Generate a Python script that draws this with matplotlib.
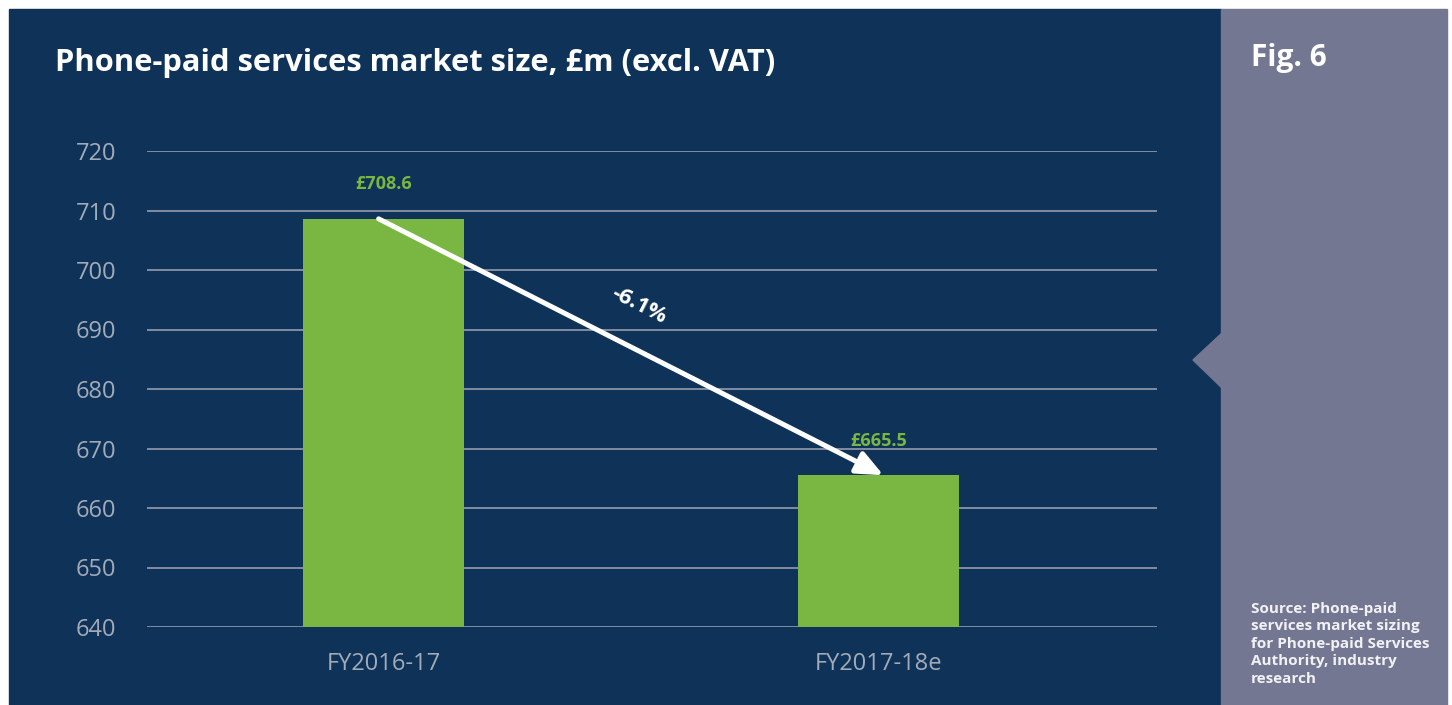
import matplotlib.pyplot as plt
from matplotlib.patches import Rectangle, Polygon

plt.rcParams['font.family'] = ['Open Sans', 'DejaVu Sans']

categories = ['FY2016-17', 'FY2017-18e']
values = [708.6, 665.5]
value_labels = ['£708.6', '£665.5']
change_label = '-6.1%'
y_ticks = [640, 650, 660, 670, 680, 690, 700, 710, 720]

W, H = 1452, 705
navy = '#0f3358'
slate = '#747792'
green = '#7ab642'
grid_c = '#8a93a6'
tick_c = '#a3abb8'

fig = plt.figure(figsize=(W / 100, H / 100), dpi=100)
fig.patch.set_facecolor('white')


def px(x, y):
    # pixel coords (top-left origin) -> figure fraction
    return x / W, 1 - y / H


# background panels
fig.add_artist(Rectangle(px(9, 705), (1221 - 9) / W, (705 - 9) / H,
                         transform=fig.transFigure, color=navy, zorder=0))
fig.add_artist(Rectangle(px(1221, 705), (1447 - 1221) / W, (705 - 9) / H,
                         transform=fig.transFigure, color=slate, zorder=0))
fig.add_artist(Polygon([px(1222, 333), px(1193, 360), px(1222, 388)],
                       closed=True, transform=fig.transFigure, color=slate, zorder=0))

# axes
l, b = px(147, 627)
r, t = px(1157, 151)
ax = fig.add_axes([l, b, r - l, t - b])
ax.set_facecolor('none')

x = list(range(len(categories)))
ax.bar(x, values, width=0.325, color=green, zorder=2)
ax.set_xlim(-0.478, 1.5626)
ax.set_ylim(640, 720)
ax.set_yticks(y_ticks)
ax.set_xticks(x)
ax.set_xticklabels(categories)
ax.grid(axis='y', color=grid_c, lw=1.3, zorder=1)
ax.set_axisbelow(True)
for s in ax.spines.values():
    s.set_visible(False)
ax.tick_params(axis='both', length=0, colors=tick_c, labelsize=17)
ax.tick_params(axis='y', pad=22)
ax.tick_params(axis='x', pad=18)

for xi, v, lab in zip(x, values, value_labels):
    ax.annotate(lab, (xi, v), xytext=(0, 25), textcoords='offset points',
                ha='center', va='center', color=green, fontsize=13, fontweight='bold')

# trend arrow
ax.annotate('', xy=(1.01, values[1]), xytext=(-0.01, values[0]),
            arrowprops=dict(arrowstyle='-|>,head_length=0.8,head_width=0.35',
                            mutation_scale=20, lw=3.6, color='white',
                            shrinkA=0, shrinkB=0), zorder=3)
fig.text(639 / W, 1 - 305 / H, change_label, rotation=-27, ha='center', va='center',
         color='white', fontsize=16, fontweight='bold')

# titles and notes
fig.text(55 / W, 1 - 63 / H, 'Phone-paid services market size, £m (excl. VAT)',
         ha='left', va='center', color='white', fontsize=22.2, fontweight='bold')
fig.text(1251 / W, 1 - 58 / H, 'Fig. 6', ha='left', va='center',
         color='white', fontsize=21.5, fontweight='bold')
fig.text(1251 / W, 1 - 686 / H,
         'Source: Phone-paid\nservices market sizing\nfor Phone-paid Services\nAuthority, industry\nresearch',
         ha='left', va='bottom', color='#f2f2f6', fontsize=11, fontweight='bold',
         linespacing=1.32)

fig.savefig('out.png', dpi=100, facecolor=fig.get_facecolor())
